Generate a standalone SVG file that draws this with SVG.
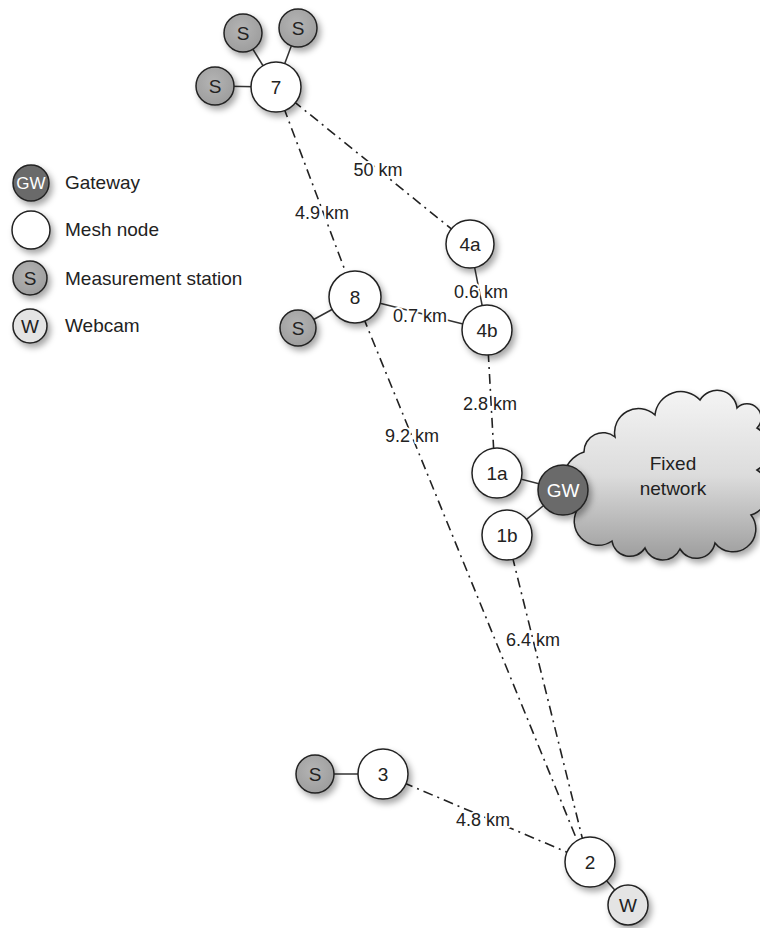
<svg xmlns="http://www.w3.org/2000/svg" width="760" height="928" viewBox="0 0 760 928">
<defs>
<filter id="sh" x="-40%" y="-40%" width="180%" height="180%">
<feDropShadow dx="3" dy="4" stdDeviation="3" flood-color="#000" flood-opacity="0.35"/>
</filter>
<linearGradient id="cloudg" x1="0" y1="0" x2="0" y2="1">
<stop offset="0" stop-color="#f4f4f4"/>
<stop offset="0.5" stop-color="#dcdcdc"/>
<stop offset="1" stop-color="#9c9c9c"/>
</linearGradient>
<radialGradient id="sg" cx="0.45" cy="0.4" r="0.7">
<stop offset="0" stop-color="#b4b4b4"/>
<stop offset="1" stop-color="#9a9a9a"/>
</radialGradient>
</defs>
<style>
.mesh{fill:#fff;stroke:#222;stroke-width:1.5}
.st{fill:url(#sg);stroke:#222;stroke-width:1.5}
.gw{fill:#6b6b6b;stroke:#222;stroke-width:1.5}
.wc{fill:#e4e4e4;stroke:#222;stroke-width:1.5}
.solid{stroke:#333;stroke-width:1.5;fill:none}
.dd{stroke:#222;stroke-width:1.6;fill:none;stroke-dasharray:10 5 2 5}
text{font-family:"Liberation Sans",Arial,sans-serif;fill:#222}
.lbl{font-size:19px;text-anchor:middle;dominant-baseline:central}
.wlbl{font-size:19px;text-anchor:middle;dominant-baseline:central;fill:#fff}
.dist{font-size:18px;text-anchor:middle;dominant-baseline:central;stroke:#fff;stroke-width:4;paint-order:stroke;stroke-linejoin:round}
.leg{font-size:19px;dominant-baseline:central}
</style>

<g id="connectors">
<line class="dd" x1="276" y1="87" x2="470" y2="244"/>
<line class="dd" x1="276" y1="87" x2="355" y2="297"/>
<line class="dd" x1="355" y1="297" x2="579" y2="845"/>
<line class="dd" x1="507" y1="535" x2="584" y2="845"/>
<line class="dd" x1="487" y1="330" x2="495" y2="473"/>
<line class="dd" x1="383" y1="774" x2="590" y2="862"/>
<line class="solid" x1="243" y1="33" x2="276" y2="87"/>
<line class="solid" x1="298" y1="28" x2="276" y2="87"/>
<line class="solid" x1="215" y1="86" x2="276" y2="87"/>
<line class="solid" x1="298" y1="328" x2="355" y2="297"/>
<line class="solid" x1="355" y1="297" x2="487" y2="330"/>
<line class="solid" x1="470" y1="244" x2="487" y2="330"/>
<line class="solid" x1="497" y1="473" x2="563" y2="490"/>
<line class="solid" x1="507" y1="535" x2="563" y2="490"/>
<line class="solid" x1="315" y1="774" x2="383" y2="774"/>
<line class="solid" x1="590" y1="862" x2="628" y2="905"/>
<text class="dist" x="378" y="170">50 km</text>
<text class="dist" x="322" y="213">4.9 km</text>
<text class="dist" x="481" y="292">0.6 km</text>
<text class="dist" x="420" y="316">0.7 km</text>
<text class="dist" x="490" y="404">2.8 km</text>
<text class="dist" x="412" y="436">9.2 km</text>
<text class="dist" x="533" y="640">6.4 km</text>
<text class="dist" x="483" y="820">4.8 km</text>
</g>

<g id="cloud">
<path filter="url(#sh)" fill="url(#cloudg)" stroke="#222" stroke-width="1.5" d="M579,507 A30,30 0 0 1 584,452 A19,19 0 0 1 615,437 A24,24 0 0 1 655,415 A26,26 0 0 1 700,400 A20,20 0 0 1 737,408 A13,13 0 0 1 757,428 A24,24 0 0 1 757,470 A25,25 0 0 1 751,515 A22,22 0 0 1 715,543 A19,19 0 0 1 680,549 A19,19 0 0 1 645,548 A18,18 0 0 1 612,541 A24,24 0 0 1 579,507 Z"/>
<text class="lbl" x="673" y="463">Fixed</text>
<text class="lbl" x="673" y="488">network</text>
</g>

<g id="node-7"><circle class="mesh" filter="url(#sh)" cx="276" cy="87" r="25"/><text class="lbl" x="276" y="87">7</text></g>
<g id="station-7a"><circle class="st" filter="url(#sh)" cx="243" cy="33" r="19"/><text class="lbl" x="243" y="33">S</text></g>
<g id="station-7b"><circle class="st" filter="url(#sh)" cx="298" cy="28" r="19"/><text class="lbl" x="298" y="28">S</text></g>
<g id="station-7c"><circle class="st" filter="url(#sh)" cx="215" cy="86" r="19"/><text class="lbl" x="215" y="86">S</text></g>
<g id="node-4a"><circle class="mesh" filter="url(#sh)" cx="470" cy="244" r="24"/><text class="lbl" x="470" y="244">4a</text></g>
<g id="node-4b"><circle class="mesh" filter="url(#sh)" cx="487" cy="330" r="25"/><text class="lbl" x="487" y="330">4b</text></g>
<g id="node-8"><circle class="mesh" filter="url(#sh)" cx="355" cy="297" r="26"/><text class="lbl" x="355" y="297">8</text></g>
<g id="station-8"><circle class="st" filter="url(#sh)" cx="298" cy="328" r="18"/><text class="lbl" x="298" y="328">S</text></g>
<g id="node-1a"><circle class="mesh" filter="url(#sh)" cx="497" cy="473" r="25"/><text class="lbl" x="497" y="473">1a</text></g>
<g id="node-1b"><circle class="mesh" filter="url(#sh)" cx="507" cy="535" r="25"/><text class="lbl" x="507" y="535">1b</text></g>
<g id="gateway"><circle class="gw" filter="url(#sh)" cx="563" cy="490" r="25"/><text class="wlbl" x="563" y="490">GW</text></g>
<g id="node-3"><circle class="mesh" filter="url(#sh)" cx="383" cy="774" r="25"/><text class="lbl" x="383" y="774">3</text></g>
<g id="station-3"><circle class="st" filter="url(#sh)" cx="315" cy="774" r="19"/><text class="lbl" x="315" y="774">S</text></g>
<g id="node-2"><circle class="mesh" filter="url(#sh)" cx="590" cy="862" r="25"/><text class="lbl" x="590" y="862">2</text></g>
<g id="webcam-2"><circle class="wc" filter="url(#sh)" cx="628" cy="905" r="20"/><text class="lbl" x="628" y="905">W</text></g>

<g id="legend">
<circle class="gw" filter="url(#sh)" cx="31" cy="183" r="18"/><text class="wlbl" x="31" y="183" style="font-size:17px">GW</text>
<text class="leg" x="65" y="182">Gateway</text>
<circle class="mesh" filter="url(#sh)" cx="31" cy="230" r="19"/>
<text class="leg" x="65" y="229">Mesh node</text>
<circle class="st" filter="url(#sh)" cx="30" cy="278" r="17"/><text class="lbl" x="30" y="278">S</text>
<text class="leg" x="65" y="278">Measurement station</text>
<circle class="wc" filter="url(#sh)" cx="30" cy="326" r="17"/><text class="lbl" x="30" y="326">W</text>
<text class="leg" x="65" y="325">Webcam</text>
</g>
</svg>
